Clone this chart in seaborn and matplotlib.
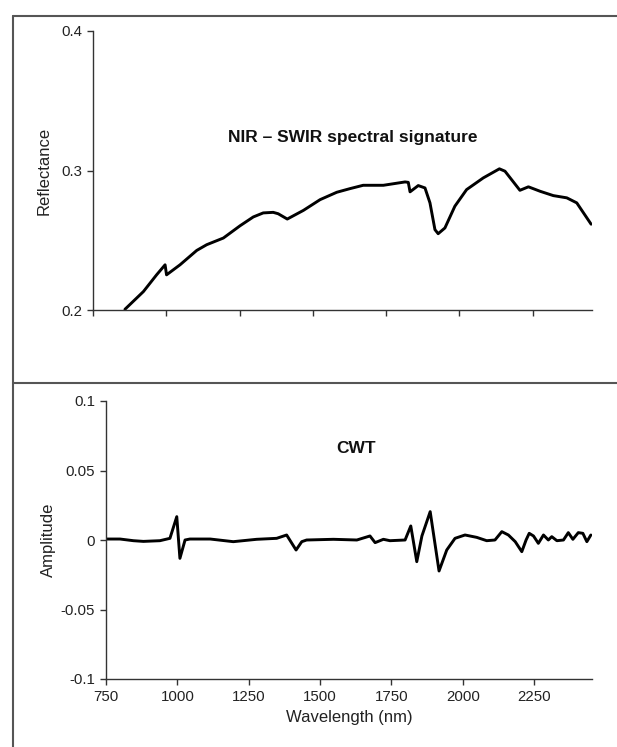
import matplotlib
matplotlib.use("Agg")
import matplotlib.pyplot as plt
from matplotlib.lines import Line2D
import seaborn as sns
import pandas as pd

# ---------------- data ----------------
refl_wavelength = [859, 922, 967, 996, 1001, 1047, 1104, 1138, 1195, 1252, 1297, 1331,
                   1365, 1382, 1413, 1468, 1525, 1582, 1627, 1672, 1741, 1815, 1826,
                   1832, 1860, 1883, 1900, 1917, 1928, 1951, 1985, 2025, 2082, 2137,
                   2156, 2207, 2236, 2276, 2321, 2367, 2401, 2450]
reflectance = [0.2005, 0.2132, 0.2252, 0.2324, 0.2252, 0.2324, 0.2427, 0.2468, 0.2516,
               0.2604, 0.2667, 0.2696, 0.2700, 0.2690, 0.2652, 0.2714, 0.2791, 0.2844,
               0.2870, 0.2894, 0.2894, 0.2918, 0.2915, 0.2847, 0.2892, 0.2875, 0.2768,
               0.2576, 0.2547, 0.2588, 0.2744, 0.2863, 0.2947, 0.3012, 0.2995, 0.2858,
               0.2883, 0.2851, 0.2820, 0.2804, 0.2768, 0.2615]

cwt_wavelength = [752, 799, 846, 881, 939, 974, 998, 1009, 1027, 1044, 1115, 1196, 1278,
                  1348, 1383, 1416, 1436, 1453, 1547, 1629, 1675, 1693, 1722, 1745,
                  1798, 1818, 1839, 1857, 1886, 1917, 1944, 1973, 2008, 2049, 2084,
                  2113, 2137, 2160, 2184, 2207, 2222, 2233, 2248, 2265, 2283, 2300,
                  2312, 2330, 2353, 2370, 2386, 2405, 2421, 2435, 2449]
cwt_amplitude = [0.0007, 0.0007, -0.0005, -0.0010, -0.0005, 0.0012, 0.0168, -0.0132,
                 0.0000, 0.0007, 0.0007, -0.0012, 0.0005, 0.0012, 0.0036, -0.0072,
                 -0.0012, 0.0000, 0.0005, 0.0000, 0.0029, -0.0019, 0.0005, -0.0005,
                 0.0000, 0.0101, -0.0156, 0.0029, 0.0204, -0.0223, -0.0072, 0.0012,
                 0.0036, 0.0019, -0.0005, 0.0000, 0.0060, 0.0036, -0.0012, -0.0084,
                 0.0000, 0.0048, 0.0029, -0.0024, 0.0036, 0.0000, 0.0024, -0.0005,
                 0.0000, 0.0053, 0.0005, 0.0053, 0.0048, -0.0012, 0.0036]

x_ticks = [750, 1000, 1250, 1500, 1750, 2000, 2250]
x_tick_labels = ["750", "1000", "1250", "1500", "1750", "2000", "2250"]
refl_ticks = [0.2, 0.3, 0.4]
refl_tick_labels = ["0.2", "0.3", "0.4"]
amp_ticks = [-0.1, -0.05, 0, 0.05, 0.1]
amp_tick_labels = ["-0.1", "-0.05", "0", "0.05", "0.1"]

# ---------------- style ----------------
sns.set_style("ticks")
plt.rcParams["font.family"] = ["Liberation Sans", "DejaVu Sans"]

W, H = 617, 747
fig = plt.figure(figsize=(W / 100, H / 100), dpi=100)

def fx(px):
    return px / W

def fy(py):
    return 1 - py / H

ax1 = fig.add_axes([fx(93), fy(310), fx(592) - fx(93), fy(31) - fy(310)])
ax2 = fig.add_axes([fx(106), fy(679), fx(592) - fx(106), fy(401) - fy(679)])

df1 = pd.DataFrame({"wl": refl_wavelength, "r": reflectance})
df2 = pd.DataFrame({"wl": cwt_wavelength, "a": cwt_amplitude})

sns.lineplot(data=df1, x="wl", y="r", ax=ax1, color="black", linewidth=2.1, sort=False)
sns.lineplot(data=df2, x="wl", y="a", ax=ax2, color="black", linewidth=2.1, sort=False)

axis_col = "#333333"
for ax in (ax1, ax2):
    ax.set_xlim(750, 2453)
    for s in ("top", "right"):
        ax.spines[s].set_visible(False)
    for s in ("left", "bottom"):
        ax.spines[s].set_color(axis_col)
        ax.spines[s].set_linewidth(1.0)
    ax.tick_params(axis="both", direction="out", length=4, width=1.0,
                   color=axis_col, labelsize=10.8, labelcolor="#222222", pad=4,
                   bottom=True, left=True)
    ax.grid(False)
    ax.set_facecolor("white")

# top panel
ax1.set_ylim(0.2, 0.4)
ax1.set_yticks(refl_ticks)
ax1.set_yticklabels(refl_tick_labels)
ax1.set_xticks(x_ticks)
ax1.set_xticklabels([])
ax1.set_xlabel("")
ax1.set_ylabel("Reflectance", fontsize=12, color="#222222", labelpad=7)
ax1.text(0.52, 0.62, "NIR \u2013 SWIR spectral signature", transform=ax1.transAxes,
         ha="center", va="center", fontsize=12.5, fontweight="bold", color="#111111")

# bottom panel
ax2.set_ylim(-0.1, 0.1)
ax2.set_yticks(amp_ticks)
ax2.set_yticklabels(amp_tick_labels)
ax2.set_xticks(x_ticks)
ax2.set_xticklabels(x_tick_labels)
ax2.set_xlabel("Wavelength (nm)", fontsize=12, color="#222222", labelpad=4)
ax2.set_ylabel("Amplitude", fontsize=12, color="#222222", labelpad=3)
ax2.text(0.515, 0.83, "CWT", transform=ax2.transAxes,
         ha="center", va="center", fontsize=12.5, fontweight="bold", color="#111111")

# outer frame and divider
frame_col = "#555555"
fig.add_artist(Line2D([fx(13), fx(13)], [0, fy(16)], color=frame_col, lw=1.5))
fig.add_artist(Line2D([fx(13), 1], [fy(16), fy(16)], color=frame_col, lw=1.5))
fig.add_artist(Line2D([fx(13), 1], [fy(383), fy(383)], color=frame_col, lw=1.5))

fig.savefig("out.png", dpi=100, facecolor="white")
